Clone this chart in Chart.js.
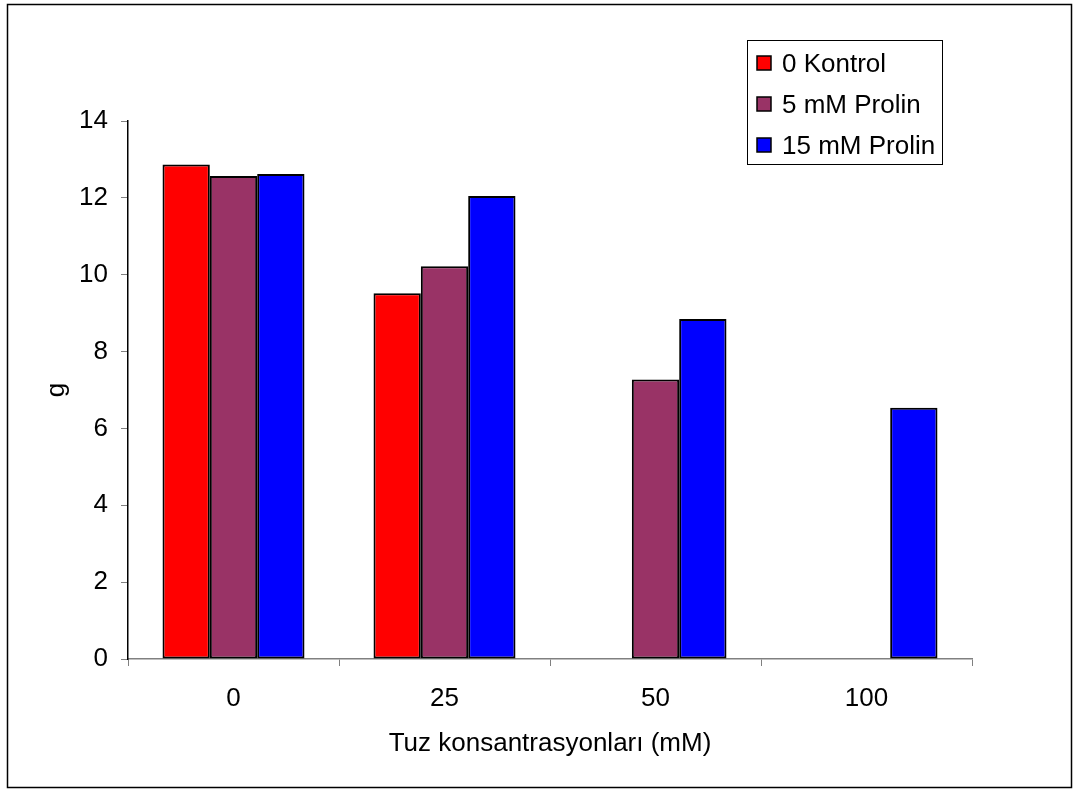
<!DOCTYPE html>
<html>
<head>
<meta charset="utf-8">
<script src="https://cdn.jsdelivr.net/npm/chart.js@4"></script>
<style>
  html, body { margin: 0; padding: 0; background: #fff; }
  #c { display: block; }
</style>
</head>
<body>
<canvas id="c" width="1080" height="790"></canvas>
<script>
// Salt concentration groups and dry weight per treatment
const categories = ['0', '25', '50', '100'];
const kontrol = [12.87, 9.52, null, null];
const prolin5 = [12.57, 10.22, 7.27, null];
const prolin15 = [12.62, 12.05, 8.85, 6.54];
const seriesNames = ['0 Kontrol', '5 mM Prolin', '15 mM Prolin'];
const seriesColors = ['#FF0000', '#993366', '#0000FF'];
const yTicks = { min: 0, max: 14, step: 2 };
const xTitle = 'Tuz konsantrasyonları (mM)';
const yTitle = 'g';

const FONT = '"Liberation Sans", Arial, sans-serif';
const FS = 26;

// Outer frame around the whole figure
const framePlugin = {
  id: 'frame',
  afterDraw(chart) {
    const ctx = chart.ctx;
    ctx.save();
    ctx.strokeStyle = '#000';
    ctx.lineWidth = 1.5;
    ctx.strokeRect(7.5, 4.5, 1064, 783);
    ctx.restore();
  }
};

// Boxed legend in the upper right of the plot
const boxLegend = {
  id: 'boxLegend',
  afterDraw(chart) {
    const ctx = chart.ctx;
    ctx.save();
    ctx.fillStyle = '#fff';
    ctx.fillRect(747.5, 40.5, 195, 124);
    ctx.strokeStyle = '#000';
    ctx.lineWidth = 1;
    ctx.strokeRect(747.5, 40.5, 195, 124);
    ctx.font = FS + 'px ' + FONT;
    ctx.textBaseline = 'middle';
    ctx.textAlign = 'left';
    chart.data.datasets.forEach((ds, i) => {
      const y = 63 + i * 41;
      ctx.fillStyle = ds.backgroundColor;
      ctx.fillRect(757, y - 7, 14, 14);
      ctx.strokeStyle = '#000';
      ctx.lineWidth = 1.5;
      ctx.strokeRect(757, y - 7, 14, 14);
      ctx.fillStyle = '#000';
      ctx.fillText(ds.label, 782, y + 1.5);
    });
    ctx.restore();
  }
};

new Chart(document.getElementById('c'), {
  type: 'bar',
  data: {
    labels: categories,
    datasets: [
      { label: seriesNames[0], data: kontrol, backgroundColor: seriesColors[0] },
      { label: seriesNames[1], data: prolin5, backgroundColor: seriesColors[1] },
      { label: seriesNames[2], data: prolin15, backgroundColor: seriesColors[2] }
    ]
  },
  options: {
    responsive: false,
    animation: false,
    devicePixelRatio: 1,
    layout: { padding: { left: 0, top: 121, right: 108, bottom: 0 } },
    datasets: {
      bar: {
        categoryPercentage: 0.673,
        barPercentage: 1.0,
        borderColor: '#000',
        borderWidth: 2,
        borderSkipped: false
      }
    },
    plugins: {
      legend: { display: false },
      tooltip: { enabled: false }
    },
    scales: {
      x: {
        afterFit(scale) { scale.height = 131; },
        grid: {
          offset: true,
          drawOnChartArea: false,
          drawTicks: true,
          tickLength: 7,
          color: '#808080',
          lineWidth: 1
        },
        border: { color: '#808080', width: 1.5 },
        ticks: { color: '#000', font: { family: FONT, size: FS }, padding: 17, maxRotation: 0 },
        title: {
          display: true,
          text: xTitle,
          color: '#000',
          font: { family: FONT, size: FS },
          padding: { top: 0, bottom: 31 }
        }
      },
      y: {
        min: yTicks.min,
        max: yTicks.max,
        afterFit(scale) { scale.width = 128; },
        grid: {
          drawOnChartArea: false,
          drawTicks: true,
          tickLength: 7,
          color: '#808080',
          lineWidth: 1
        },
        border: { color: '#000', width: 1.5 },
        ticks: {
          stepSize: yTicks.step,
          color: '#000',
          font: { family: FONT, size: FS },
          padding: 13
        },
        title: {
          display: true,
          text: yTitle,
          color: '#000',
          font: { family: FONT, size: FS },
          padding: { top: 41, bottom: 0 }
        }
      }
    }
  },
  plugins: [framePlugin, boxLegend]
});
</script>
</body>
</html>
